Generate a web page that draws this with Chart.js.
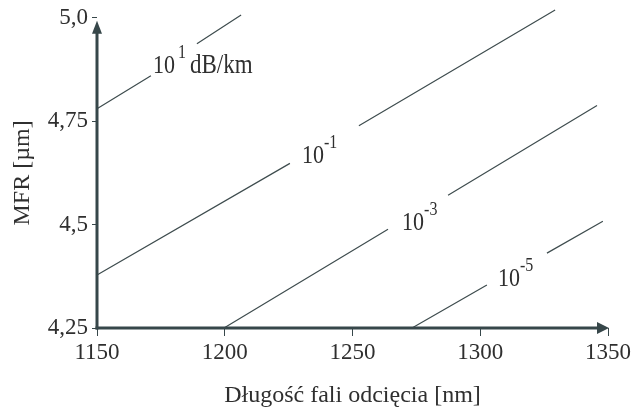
<!DOCTYPE html>
<html>
<head>
<meta charset="utf-8">
<script src="https://cdn.jsdelivr.net/npm/chart.js@4/dist/chart.umd.min.js"></script>
<style>
  html, body { margin: 0; padding: 0; background: #ffffff; }
  #wrap { width: 634px; height: 412px; }
</style>
</head>
<body>
<div id="wrap"><canvas id="c" width="634" height="412"></canvas></div>
<script>
// ---- Data ----
const xTickLabels = ['1150', '1200', '1250', '1300', '1350'];
const yTickLabels = ['4,25', '4,5', '4,75', '5,0'];

// attenuation curves; null y = gap left for the label
const line1X = [1150, 1171.1, 1180, 1189.1, 1206.4];
const line1Y = [4.780, 4.860, null, 4.937, 5.007];
const line2X = [1150, 1225.5, 1239, 1252.5, 1329.3];
const line2Y = [4.378, 4.648, null, 4.739, 5.019];
const line3X = [1199.7, 1263.9, 1275, 1287.4, 1345.7];
const line3Y = [4.25, 4.489, null, 4.571, 4.788];
const line4X = [1273.3, 1302.6, 1314, 1326.1, 1348];
const line4Y = [4.25, 4.354, null, 4.431, 4.508];

// curve labels: 10^exp (+ unit on the first)
const labelBase = ['10', '10', '10', '10'];
const labelExp = ['1', '-1', '-3', '-5'];
const labelUnit = ['dB/km', '', '', ''];
const labelX = [1171.9, 1230.2, 1269.4, 1306.9];
const labelY = [4.867, 4.648, 4.486, 4.351];

const xTitle = 'Długość fali odcięcia [nm]';
const yTitle = 'MFR [µm]';

// ---- styling ----
const FONT = '"Liberation Serif", "Times New Roman", serif';
const TEXT = '#2f2f2f';
const AXIS = '#37474a';
const LINE = '#3e4c4e';

function pts(xs, ys) { return xs.map((x, i) => ({ x: x, y: ys[i] })); }

const lineSets = [[line1X, line1Y], [line2X, line2Y], [line3X, line3Y], [line4X, line4Y]];

const axesPlugin = {
  id: 'axesArrows',
  afterDatasetsDraw(chart) {
    const { ctx, chartArea } = chart;
    const l = chartArea.left, b = chartArea.bottom, t = chartArea.top, r = chartArea.right;
    ctx.save();
    ctx.strokeStyle = AXIS;
    ctx.fillStyle = AXIS;
    ctx.lineWidth = 3;
    ctx.beginPath();
    ctx.moveTo(l, b + 1.5);
    ctx.lineTo(l, t + 12);
    ctx.stroke();
    ctx.beginPath();
    ctx.moveTo(l - 1.5, b);
    ctx.lineTo(r - 8, b);
    ctx.stroke();
    // arrow heads
    ctx.beginPath();
    ctx.moveTo(l, t + 3);
    ctx.lineTo(l - 5, t + 16);
    ctx.lineTo(l + 5, t + 16);
    ctx.closePath();
    ctx.fill();
    ctx.beginPath();
    ctx.moveTo(r + 1, b);
    ctx.lineTo(r - 11, b - 6);
    ctx.lineTo(r - 11, b + 6);
    ctx.closePath();
    ctx.fill();
    ctx.restore();
  }
};

const labelPlugin = {
  id: 'curveLabels',
  afterDatasetsDraw(chart) {
    const { ctx } = chart;
    const xs = chart.scales.x, ys = chart.scales.y;
    const stretch = 1.15;
    ctx.save();
    ctx.fillStyle = TEXT;
    ctx.textBaseline = 'alphabetic';
    ctx.textAlign = 'left';
    for (let i = 0; i < labelBase.length; i++) {
      let px = xs.getPixelForValue(labelX[i]);
      const py = ys.getPixelForValue(labelY[i]);
      ctx.save();
      ctx.translate(px, py);
      ctx.scale(1, stretch);
      let cx = 0;
      ctx.font = '22px ' + FONT;
      ctx.fillText(labelBase[i], cx, 0);
      cx += ctx.measureText(labelBase[i]).width + (labelExp[i].charAt(0) === '-' ? 0 : 3);
      ctx.font = '16px ' + FONT;
      ctx.fillText(labelExp[i], cx, -13);
      cx += ctx.measureText(labelExp[i]).width;
      if (labelUnit[i]) {
        ctx.font = '23px ' + FONT;
        ctx.fillText(labelUnit[i], cx + 4, 0);
      }
      ctx.restore();
    }
    ctx.restore();
  }
};

new Chart(document.getElementById('c'), {
  type: 'scatter',
  data: {
    datasets: lineSets.map(s => ({
      data: pts(s[0], s[1]),
      showLine: true,
      spanGaps: false,
      borderColor: LINE,
      borderWidth: 1.2,
      pointRadius: 0,
      pointHoverRadius: 0,
      clip: false,
      tension: 0
    }))
  },
  options: {
    responsive: false,
    animation: false,
    events: [],
    layout: { padding: { top: 17, right: 26, left: 0, bottom: 0 } },
    plugins: { legend: { display: false }, tooltip: { enabled: false } },
    scales: {
      x: {
        type: 'linear',
        min: 1150, max: 1350,
        afterFit(scale) { scale.height = 84; },
        ticks: {
          stepSize: 50,
          color: TEXT,
          font: { family: FONT, size: 23 },
          padding: 3,
          maxRotation: 0,
          autoSkip: false,
          callback: (v, i) => xTickLabels[i]
        },
        grid: { display: true, drawOnChartArea: false, drawTicks: true, tickLength: 8, color: AXIS, lineWidth: 1 },
        border: { display: false },
        title: { display: true, text: xTitle, color: TEXT, font: { family: FONT, size: 24 }, padding: { top: 0, bottom: 2 } }
      },
      y: {
        type: 'linear',
        min: 4.25, max: 5.0,
        afterFit(scale) { scale.width = 97; },
        ticks: {
          stepSize: 0.25,
          color: TEXT,
          font: { family: FONT, size: 23 },
          padding: 4,
          autoSkip: false,
          callback: (v, i) => yTickLabels[i]
        },
        grid: { display: true, drawOnChartArea: false, drawTicks: true, tickLength: 5, color: AXIS, lineWidth: 1 },
        border: { display: false },
        title: { display: true, text: yTitle, color: TEXT, font: { family: FONT, size: 24 }, padding: { top: 8, bottom: 0 } }
      }
    }
  },
  plugins: [axesPlugin, labelPlugin]
});
</script>
</body>
</html>
